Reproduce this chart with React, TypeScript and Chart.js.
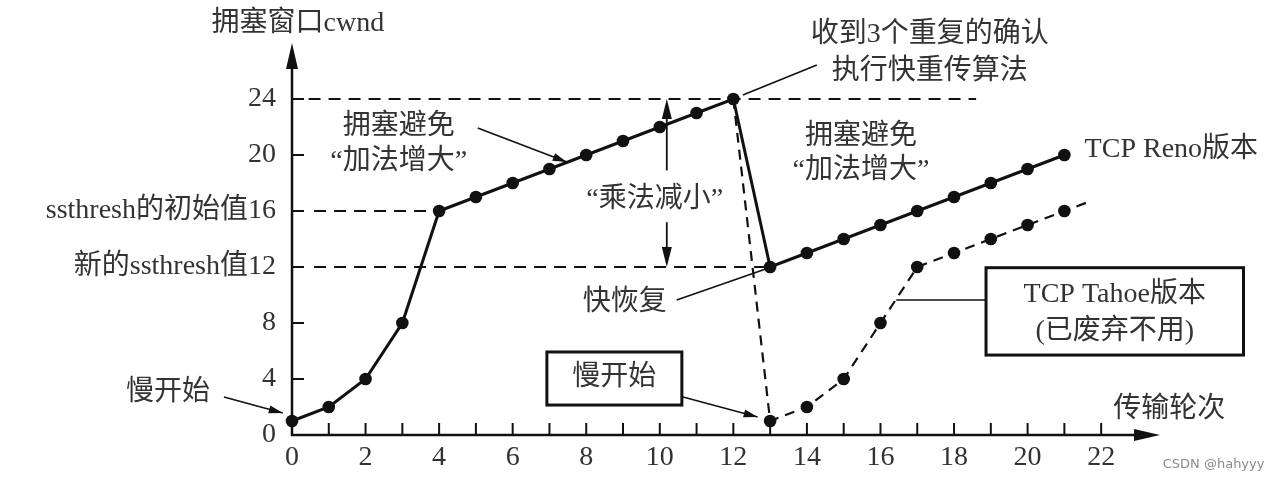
import { useEffect, useRef } from 'react';
import { Chart, registerables } from 'chart.js';

Chart.register(...registerables);

const FONT = '"Liberation Serif", "Noto Sans CJK SC", serif';
const TEXT = '#333';
const INK = '#111';

// Data
const renoRounds = [0, 1, 2, 3, 4, 5, 6, 7, 8, 9, 10, 11, 12, 13, 14, 15, 16, 17, 18, 19, 20, 21];
const renoCwnd = [1, 2, 4, 8, 16, 17, 18, 19, 20, 21, 22, 23, 24, 12, 13, 14, 15, 16, 17, 18, 19, 20];
const tahoeRounds = [12, 13, 14, 15, 16, 17, 18, 19, 20, 21, 21.7];
const tahoeCwnd = [24, 1, 2, 4, 8, 12, 13, 14, 15, 16, 16.7];
const tahoeMarker = [0, 6.3, 6.3, 6.3, 6.3, 6.3, 6.3, 6.3, 6.3, 6.3, 0];
const xTickValues = [0, 2, 4, 6, 8, 10, 12, 14, 16, 18, 20, 22];
const yTickValues = [0, 4, 8, 12, 16, 20, 24];
const yTickLabels = ['0', '4', '8', '新的ssthresh值12', 'ssthresh的初始值16', '20', '24'];

function drawArrowHead(ctx: CanvasRenderingContext2D, x1: number, y1: number, x2: number, y2: number, len: number, half: number) {
  const a = Math.atan2(y2 - y1, x2 - x1);
  ctx.beginPath();
  ctx.moveTo(x2, y2);
  ctx.lineTo(x2 - len * Math.cos(a) + half * Math.sin(a), y2 - len * Math.sin(a) - half * Math.cos(a));
  ctx.lineTo(x2 - len * Math.cos(a) - half * Math.sin(a), y2 - len * Math.sin(a) + half * Math.cos(a));
  ctx.closePath();
  ctx.fill();
}

function line(ctx: CanvasRenderingContext2D, x1: number, y1: number, x2: number, y2: number) {
  ctx.beginPath();
  ctx.moveTo(x1, y1);
  ctx.lineTo(x2, y2);
  ctx.stroke();
}

const decorPlugin = {
  id: 'decor',
  beforeDatasetsDraw(chart: any) {
    const { ctx, chartArea, scales } = chart;
    const X = (v: number) => scales.x.getPixelForValue(v);
    const Y = (v: number) => scales.y.getPixelForValue(v);
    ctx.save();
    ctx.strokeStyle = INK;
    ctx.fillStyle = INK;
    // dashed reference lines
    ctx.lineWidth = 2;
    ctx.setLineDash([12, 8]);
    line(ctx, X(0.45), Y(24), X(18.6), Y(24));
    line(ctx, X(0.6), Y(16), X(4), Y(16));
    line(ctx, X(0.6), Y(12), X(12.9), Y(12));
    ctx.setLineDash([]);
    // axes
    ctx.lineWidth = 2.5;
    const x0 = X(0), y0 = Y(0);
    line(ctx, x0, y0 + 1, x0, chartArea.top + 20);
    drawArrowHead(ctx, x0, y0, x0, chartArea.top, 26, 6);
    line(ctx, x0 - 1, y0, chartArea.right - 20, y0);
    drawArrowHead(ctx, x0, y0, chartArea.right, y0, 26, 6);
    // tick marks
    ctx.lineWidth = 2;
    for (let v = 4; v <= 24; v += 4) line(ctx, x0, Y(v), x0 + 12, Y(v));
    for (let i = 1; i <= 22; i++) line(ctx, X(i), y0, X(i), y0 - 12);
    ctx.restore();
  },
  afterDatasetsDraw(chart: any) {
    const { ctx, scales } = chart;
    const X = (v: number) => scales.x.getPixelForValue(v);
    const Y = (v: number) => scales.y.getPixelForValue(v);
    ctx.save();
    ctx.fillStyle = TEXT;
    ctx.strokeStyle = INK;
    ctx.font = `28px ${FONT}`;
    ctx.textBaseline = 'middle';
    const text = (s: string, x: number, y: number, align: CanvasTextAlign = 'center') => {
      ctx.textAlign = align;
      ctx.fillText(s, X(x), Y(y));
    };
    // axis titles
    text('拥塞窗口cwnd', 0.16, 29.4);
    text('传输轮次', 23.85, 1.8);
    // congestion avoidance (left)
    text('拥塞避免', 2.9, 22);
    text('“加法增大”', 2.9, 19.5);
    ctx.lineWidth = 1.6;
    ctx.fillStyle = INK;
    line(ctx, X(5.05), Y(21.93), X(7.47), Y(19.5));
    drawArrowHead(ctx, X(5.05), Y(21.93), X(7.47), Y(19.5), 14, 4);
    // multiplicative decrease
    ctx.fillStyle = TEXT;
    text('“乘法减小”', 9.86, 16.8);
    ctx.fillStyle = INK;
    ctx.lineWidth = 1.8;
    line(ctx, X(10.19), Y(23.6), X(10.19), Y(18.9));
    drawArrowHead(ctx, X(10.19), Y(20), X(10.19), Y(24), 20, 5);
    line(ctx, X(10.19), Y(15.2), X(10.19), Y(12.4));
    drawArrowHead(ctx, X(10.19), Y(15), X(10.19), Y(12), 20, 5);
    // congestion avoidance (right)
    ctx.fillStyle = TEXT;
    text('拥塞避免', 15.47, 21.3);
    text('“加法增大”', 15.47, 18.9);
    // fast retransmit
    text('收到3个重复的确认', 17.34, 28.57);
    text('执行快重传算法', 17.34, 25.93);
    ctx.lineWidth = 1.6;
    line(ctx, X(12.26), Y(24.29), X(14.27), Y(26.43));
    // Reno label
    text('TCP Reno版本', 21.55, 20.36, 'left');
    // fast recovery
    text('快恢复', 9.05, 9.43);
    line(ctx, X(10.46), Y(9.64), X(12.88), Y(11.85));
    // slow start (left)
    text('慢开始', -3.37, 3.0);
    ctx.fillStyle = INK;
    line(ctx, X(-1.85), Y(2.71), X(-0.25), Y(1.57));
    drawArrowHead(ctx, X(-1.85), Y(2.71), X(-0.25), Y(1.57), 14, 4);
    // slow start box
    ctx.lineWidth = 3;
    ctx.strokeRect(X(6.93), Y(5.93), X(10.6) - X(6.93), Y(2.14) - Y(5.93));
    ctx.fillStyle = TEXT;
    text('慢开始', 8.76, 4.07);
    ctx.fillStyle = INK;
    ctx.lineWidth = 1.6;
    line(ctx, X(10.63), Y(2.71), X(12.66), Y(1.29));
    drawArrowHead(ctx, X(10.63), Y(2.71), X(12.66), Y(1.29), 14, 4);
    // Tahoe box
    ctx.lineWidth = 3;
    ctx.strokeRect(X(18.87), Y(11.95), X(25.87) - X(18.87), Y(5.71) - Y(11.95));
    ctx.lineWidth = 1.6;
    line(ctx, X(16.43), Y(9.64), X(18.87), Y(9.64));
    ctx.fillStyle = TEXT;
    text('TCP Tahoe版本', 22.37, 10.0);
    text('(已废弃不用)', 22.37, 7.36);
    // watermark
    ctx.font = '13px "DejaVu Sans", sans-serif';
    ctx.fillStyle = '#8a8a8a';
    text('CSDN @hahyyy', 26.44, -2.14, 'right');
    ctx.restore();
  },
};

export default function App() {
  const ref = useRef<HTMLCanvasElement>(null);
  useEffect(() => {
    const chart = new Chart(ref.current!, {
      type: 'line',
      data: {
        datasets: [
          {
            label: 'TCP Tahoe',
            data: tahoeRounds.map((r, i) => ({ x: r, y: tahoeCwnd[i] })),
            borderColor: INK,
            backgroundColor: INK,
            borderWidth: 2.2,
            borderDash: [10, 7],
            pointRadius: tahoeMarker,
            pointBorderWidth: 0,
            pointBackgroundColor: INK,
            tension: 0,
            clip: false as any,
          },
          {
            label: 'TCP Reno',
            data: renoRounds.map((r, i) => ({ x: r, y: renoCwnd[i] })),
            borderColor: INK,
            backgroundColor: INK,
            borderWidth: 3,
            pointRadius: 6.3,
            pointBorderWidth: 0,
            pointBackgroundColor: INK,
            tension: 0,
            clip: false as any,
          },
        ],
      },
      options: {
        responsive: false,
        animation: false,
        events: [],
        layout: { padding: { left: 0, right: 121, top: 43, bottom: 0 } },
        plugins: { legend: { display: false }, tooltip: { enabled: false }, title: { display: false } },
        scales: {
          x: {
            type: 'linear',
            min: 0,
            max: 23.6,
            grid: { display: false, drawTicks: false },
            border: { display: false },
            afterBuildTicks: (s: any) => {
              s.ticks = xTickValues.map((v) => ({ value: v }));
            },
            afterFit: (s: any) => {
              s.height = 47;
            },
            ticks: {
              color: TEXT,
              font: { family: FONT, size: 28 },
              padding: 6,
              maxRotation: 0,
              autoSkip: false,
            },
          },
          y: {
            type: 'linear',
            min: 0,
            max: 28,
            grid: { display: false, drawTicks: false },
            border: { display: false },
            afterBuildTicks: (s: any) => {
              s.ticks = yTickValues.map((v) => ({ value: v }));
            },
            afterFit: (s: any) => {
              s.width = 292;
            },
            ticks: {
              color: TEXT,
              font: { family: FONT, size: 28 },
              padding: 16,
              autoSkip: false,
              callback: (v: any) => {
                const i = yTickValues.indexOf(Number(v));
                return i >= 0 ? yTickLabels[i] : '';
              },
            },
          },
        },
      },
      plugins: [decorPlugin],
    });
    return () => chart.destroy();
  }, []);
  return (
    <div style={{ position: 'absolute', left: 0, top: 0, width: 1281, height: 482, background: '#fff' }}>
      <canvas ref={ref} width={1281} height={482} style={{ display: 'block' }} />
    </div>
  );
}
